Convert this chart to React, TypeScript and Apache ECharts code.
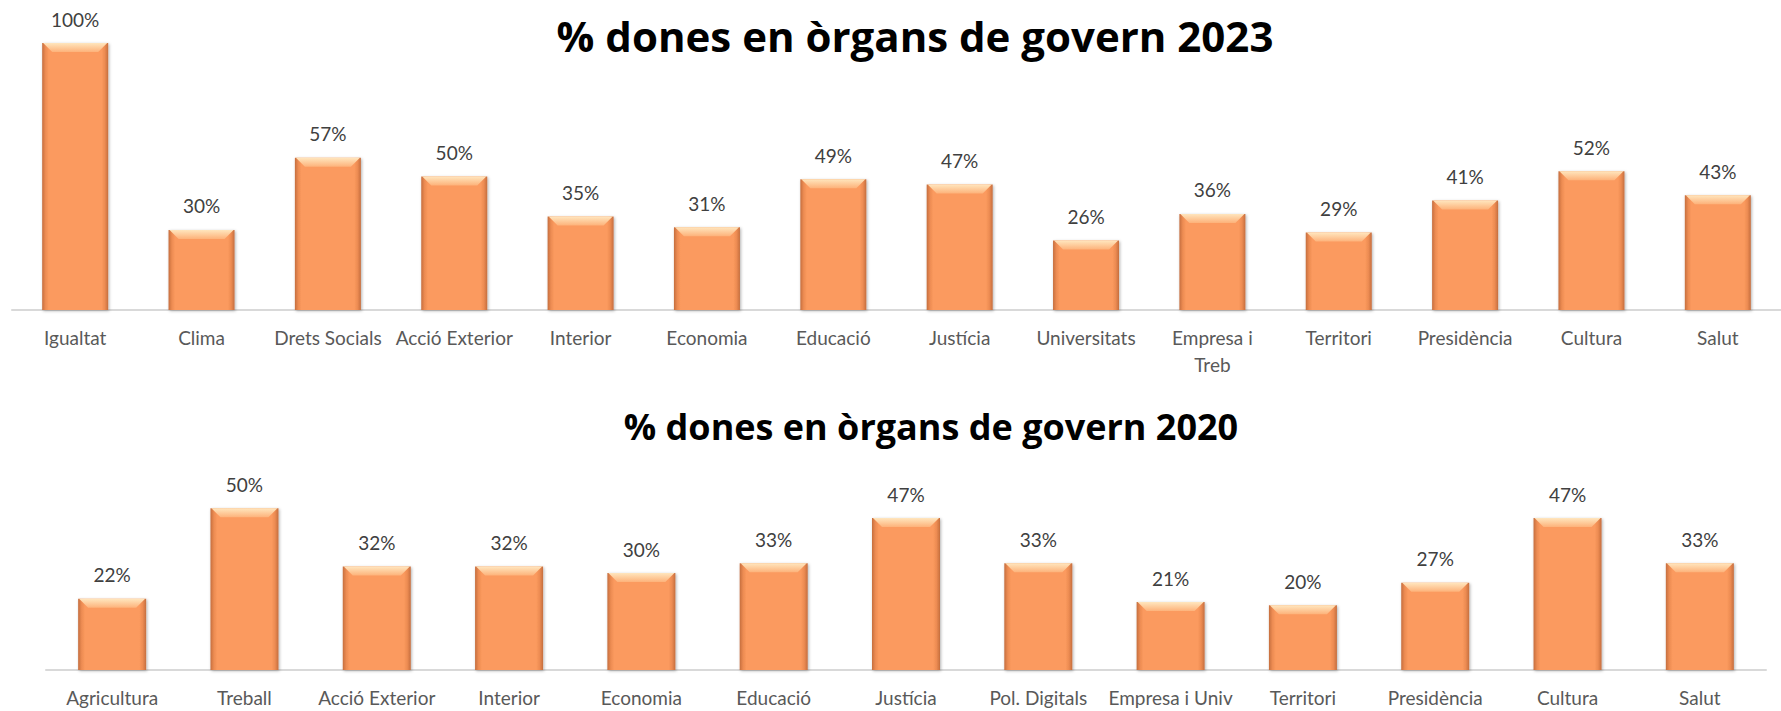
import React, { useEffect, useRef } from "react";
import * as echarts from "echarts";

const TITLE_2023 = "% dones en òrgans de govern 2023";
const TITLE_2020 = "% dones en òrgans de govern 2020";

const CATS_2023 = [
  "Igualtat", "Clima", "Drets Socials", "Acció Exterior", "Interior", "Economia", "Educació",
  "Justícia", "Universitats", "Empresa i Treb", "Territori", "Presidència", "Cultura", "Salut",
];
const VALS_2023 = [100, 30, 57, 50, 35, 31, 49, 47, 26, 36, 29, 41, 52, 43];

const CATS_2020 = [
  "Agricultura", "Treball", "Acció Exterior", "Interior", "Economia", "Educació", "Justícia",
  "Pol. Digitals", "Empresa i Univ", "Territori", "Presidència", "Cultura", "Salut",
];
const VALS_2020 = [22, 50, 32, 32, 30, 33, 47, 33, 21, 20, 27, 47, 33];

const WRAPPED: Record<string, string> = { "Empresa i Treb": "Empresa i\nTreb" };

const LABEL_FONT = "Lato";
const BAR_MAIN = "#FB9A5E";

function barGradient() {
  return new echarts.graphic.LinearGradient(0, 0, 1, 0, [
    { offset: 0, color: "#C56E3E" },
    { offset: 0.05, color: "#EC8B52" },
    { offset: 0.1, color: BAR_MAIN },
    { offset: 0.9, color: BAR_MAIN },
    { offset: 0.95, color: "#EC8B52" },
    { offset: 1, color: "#C56E3E" },
  ]);
}

function bevelSeries(gridIdx: number, vals: number[], barW: number) {
  return {
    type: "custom",
    xAxisIndex: gridIdx,
    yAxisIndex: gridIdx,
    silent: true,
    z: 3,
    data: vals.map((v, i) => [i, v]),
    renderItem: (params: any, api: any) => {
      const top = api.coord([api.value(0), api.value(1)]);
      const x0 = top[0] - barW / 2 + 1;
      const x1 = top[0] + barW / 2 - 1;
      const y0 = top[1];
      const b = 9;
      return {
        type: "group",
        children: [
          {
            type: "polygon",
            shape: { points: [[x0, y0], [x1, y0], [x1 - b, y0 + b], [x0 + b, y0 + b]] },
            style: {
              fill: new echarts.graphic.LinearGradient(0, 0, 0, 1, [
                { offset: 0, color: "#FFE6BE" },
                { offset: 1, color: "#FDB27A" },
              ]),
            },
          },
        ],
      };
    },
  };
}

function barSeries(gridIdx: number, vals: number[], barW: number) {
  return {
    type: "bar",
    xAxisIndex: gridIdx,
    yAxisIndex: gridIdx,
    data: vals,
    barWidth: barW,
    z: 2,
    itemStyle: {
      color: barGradient(),
      shadowBlur: 3,
      shadowColor: "rgba(0,0,0,0.3)",
      shadowOffsetX: 1,
      shadowOffsetY: 1,
    },
    label: {
      show: true,
      position: "top",
      distance: 13,
      formatter: (p: any) => `${p.value}%`,
      color: "#404040",
      fontFamily: LABEL_FONT,
      fontSize: 19,
      lineHeight: 22,
    },
  };
}

function xAxis(gridIdx: number, cats: string[]) {
  return {
    type: "category",
    gridIndex: gridIdx,
    data: cats,
    axisTick: { show: false },
    axisLine: { show: true, lineStyle: { color: "#D9D9D9", width: 2 } },
    axisLabel: {
      interval: 0,
      margin: 14,
      color: "#595959",
      fontFamily: LABEL_FONT,
      fontSize: 19,
      lineHeight: 27,
      formatter: (v: string) => WRAPPED[v] ?? v,
    },
  };
}

function yAxis(gridIdx: number, max: number) {
  return { type: "value", gridIndex: gridIdx, min: 0, max, show: false, splitLine: { show: false } };
}

export default function App() {
  const ref = useRef<HTMLDivElement>(null);
  useEffect(() => {
    if (!ref.current) return;
    const chart = echarts.init(ref.current, undefined, { renderer: "svg" });
    chart.setOption({
      animation: false,
      backgroundColor: "#FFFFFF",
      title: [
        {
          text: TITLE_2023,
          left: 915,
          top: 14,
          textAlign: "center",
          padding: 0,
          textStyle: { fontFamily: "Open Sans", fontWeight: "bold", fontSize: 42, color: "#000000" },
        },
        {
          text: TITLE_2020,
          left: 931,
          top: 408,
          textAlign: "center",
          padding: 0,
          textStyle: { fontFamily: "Open Sans", fontWeight: "bold", fontSize: 36, color: "#000000" },
        },
      ],
      grid: [
        { left: 12, top: 43, width: 1785, height: 267 },
        { left: 46, top: 476, width: 1720, height: 195 },
      ],
      xAxis: [xAxis(0, CATS_2023), xAxis(1, CATS_2020)],
      yAxis: [yAxis(0, 100), yAxis(1, 60)],
      series: [
        barSeries(0, VALS_2023, 66),
        bevelSeries(0, VALS_2023, 66),
        barSeries(1, VALS_2020, 68),
        bevelSeries(1, VALS_2020, 68),
      ],
    });
    return () => chart.dispose();
  }, []);
  return (
    <div
      ref={ref}
      style={{ position: "absolute", left: 0, top: 0, width: 1781, height: 711, background: "#fff" }}
    />
  );
}
